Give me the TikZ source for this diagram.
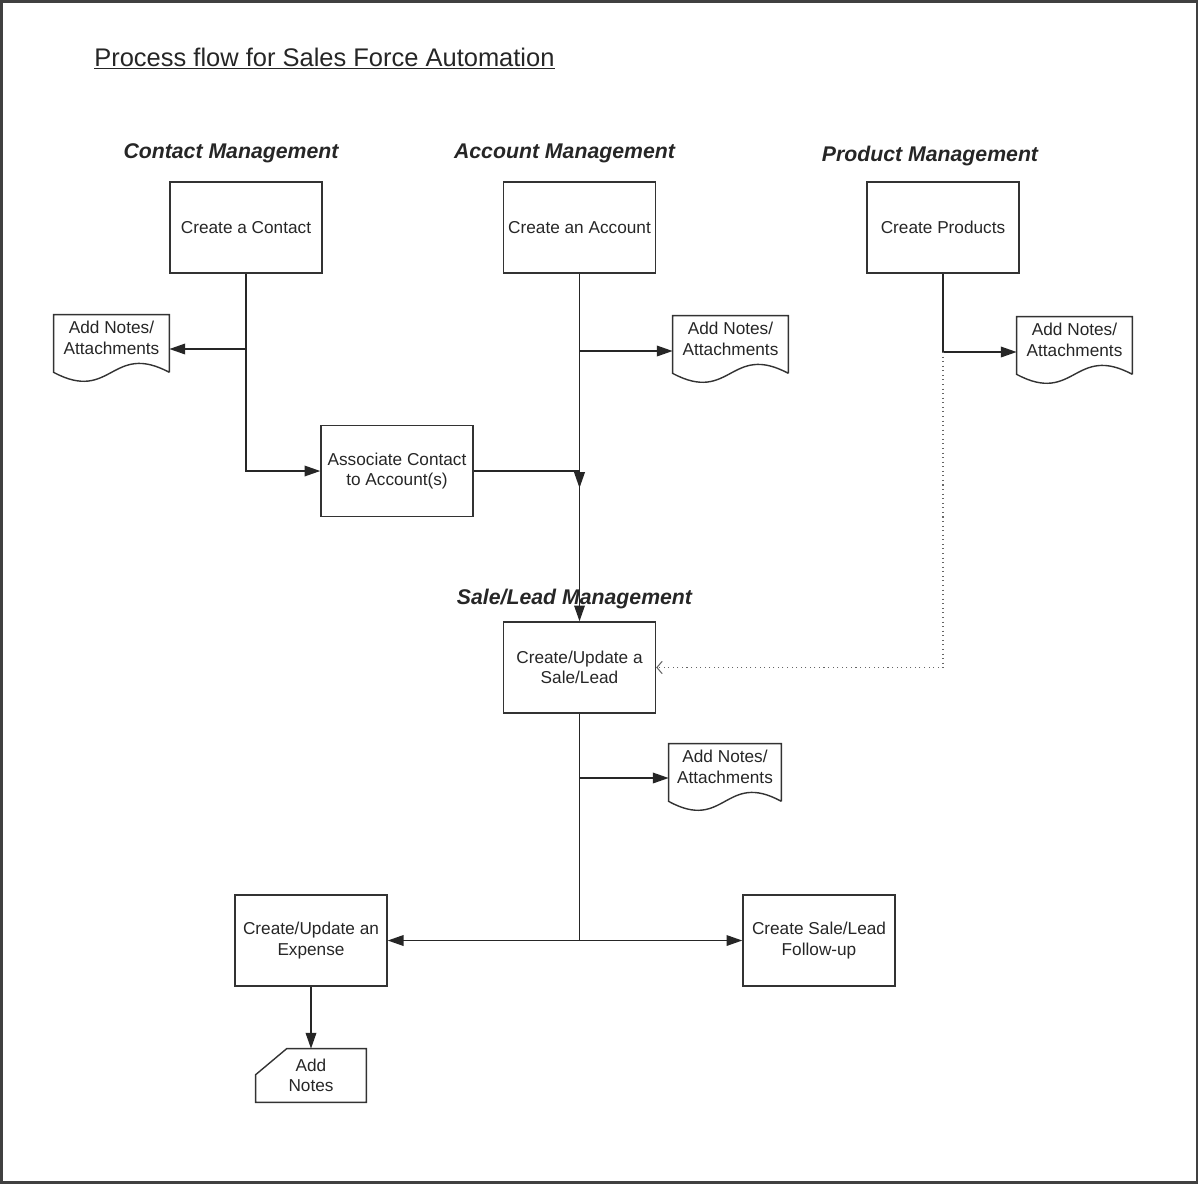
\documentclass[tikz,border=0pt]{standalone}
\usepackage{fontspec}
\setmainfont{Liberation Sans}
\usetikzlibrary{arrows.meta,calc}
\newcommand\docshape[1]{%
  \draw[boxline] ($(#1.south east)+(0,11)$) -- (#1.north east) -- (#1.north west) -- ($(#1.south west)+(0,11)$)
    .. controls ($(#1.south)+(0,42)$) and ($(#1.south)+(0,-20)$) .. ($(#1.south east)+(0,11)$);}
\begin{document}
\begin{tikzpicture}[x=0.02cm,y=-0.02cm,
  boxline/.style={draw=black!80, line width=0.8pt},
  txt/.style={font=\fontsize{9.8}{11.6}\selectfont, text=black!85, align=center, inner sep=0pt},
  proc/.style={txt, boxline, rectangle, minimum width=3.04cm, minimum height=1.82cm},
  docnode/.style={txt, rectangle, minimum width=2.3cm, minimum height=0.92cm},
  heading/.style={font=\fontsize{12.1}{14}\selectfont\bfseries\itshape, text=black!85, anchor=base, inner sep=0pt},
  conn/.style={draw=black!85, line width=1pt},
  arr/.style={conn, -{Triangle[length=9pt,width=6pt]}},
  dotconn/.style={draw=black!60, line width=0.6pt, dotted, -{Straight Barb[length=3pt,width=7pt]}}
]
\useasboundingbox (0,0) rectangle (1199,1184);
\draw[line width=1.2pt, draw=black!75] (1.5,1.5) rectangle (1197,1182.5);

\node[anchor=base west, inner sep=0pt, font=\fontsize{14.5}{17}\selectfont, text=black!85] (title) at (94,66) {\underline{Process flow for Sales Force Automation}};

\node[heading] (hcontact) at (231,158) {Contact Management};
\node[heading] (haccount) at (564.5,158) {Account Management};
\node[heading] (hproduct) at (930,161) {Product Management};
\node[heading] (hsale) at (574.5,604) {Sale/Lead Management};

\node[proc] (contact) at (246,227.5) {Create a Contact};
\node[proc] (account) at (579.5,227.5) {Create an Account};
\node[proc] (products) at (943,227.5) {Create Products};
\node[proc] (assoc) at (397,471) {Associate Contact\\to Account(s)};
\node[proc] (sale) at (579.5,667.5) {Create/Update a\\Sale/Lead};
\node[proc] (expense) at (311,940.5) {Create/Update an\\Expense};
\node[proc] (followup) at (819,940.5) {Create Sale/Lead\\Follow-up};

\node[docnode] (doc1) at (111.5,338) {Add Notes/\\Attachments};
\node[docnode] (doc2) at (730.5,339) {Add Notes/\\Attachments};
\node[docnode] (doc3) at (1074.5,340) {Add Notes/\\Attachments};
\node[docnode, minimum width=2.24cm] (doc4) at (725,767) {Add Notes/\\Attachments};
\docshape{doc1}
\docshape{doc2}
\docshape{doc3}
\docshape{doc4}

\node[txt, rectangle, minimum width=2.2cm, minimum height=1.06cm] (addnotes) at (311,1075.5) {Add\\Notes};
\draw[boxline] (addnotes.south west) -- (addnotes.south east) -- (addnotes.north east)
  -- ($(addnotes.north west)+(31,0)$) -- ($(addnotes.north west)+(0,26)$) -- cycle;

% contact management
\draw[arr] (contact.south) |- (assoc.west);
\coordinate (j1) at (contact.south |- 0,349);
\draw[arr] (j1) -- (j1 -| doc1.east);

% account management
\draw[arr] (account.south) -- (sale.north);
\coordinate (j2) at (account.south |- 0,351);
\draw[arr] (j2) -- (j2 -| doc2.west);
\draw[arr] (assoc.east) -- (assoc.east -| account.south) -- ++(0,17);

% product management
\coordinate (j3) at (products.south |- 0,352);
\draw[conn] (products.south) -- (j3);
\draw[arr] (j3) -- (j3 -| doc3.west);
\draw[dotconn] (j3) |- (sale.east);

% sale/lead
\coordinate (j5) at (sale.south |- 0,940.5);
\draw[conn] (sale.south) -- (j5);
\coordinate (j4) at (sale.south |- 0,778);
\draw[arr] (j4) -- (j4 -| doc4.west);
\draw[arr] (j5) -- (expense.east);
\draw[arr] (j5) -- (followup.west);

% expense
\draw[arr] (expense.south) -- (addnotes.north);
\end{tikzpicture}
\end{document}
